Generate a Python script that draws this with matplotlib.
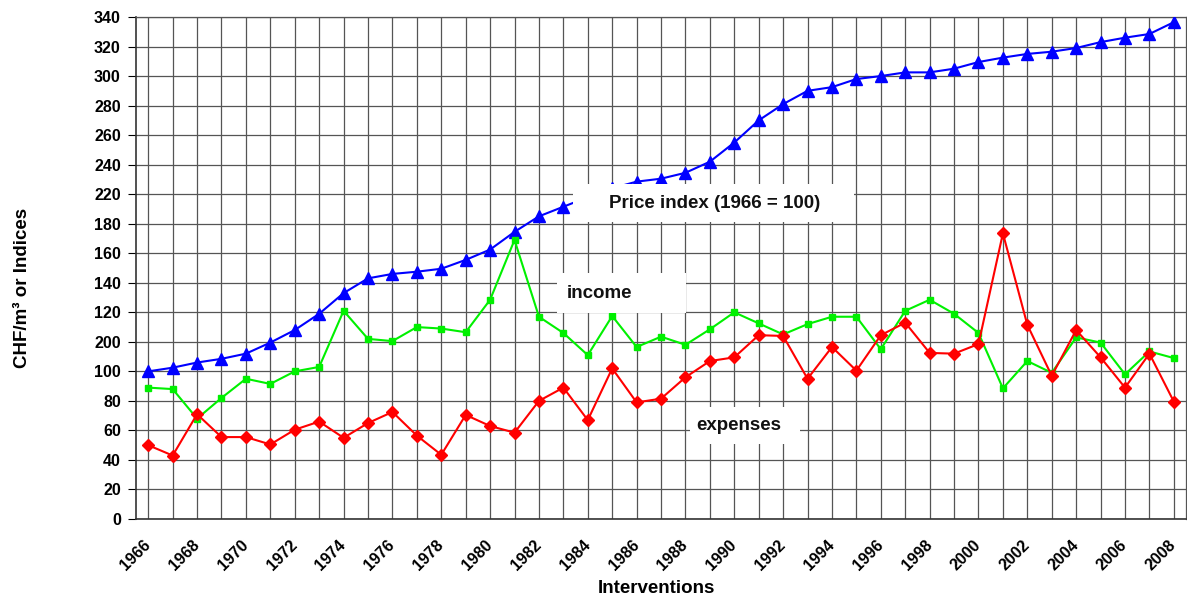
import matplotlib
matplotlib.use("Agg")
import matplotlib.pyplot as plt
from matplotlib.patches import Rectangle
from matplotlib.transforms import ScaledTranslation

plt.rcParams['font.family'] = ['Liberation Sans', 'DejaVu Sans']
plt.rcParams['font.weight'] = 'bold'

# --------------------------------------------------------
# Data
years = list(range(1966, 2009))
price_index = [100, 102.5, 106, 108.5, 112, 119.5, 128, 139, 153, 163, 166,
               167.5, 169.5, 175.5, 182.5, 194.5, 205, 211.5, 218, 224, 228.5,
               230.5, 234.5, 242, 255, 270, 281, 290, 292.5, 298, 300,
               302.5, 302.5, 305, 309.5, 312.5, 315, 316.5, 319, 323, 326,
               328.5, 336.5]
income = [89, 88, 68, 82, 95, 91.5, 100, 103, 141, 122, 120.5,
          130, 129, 126.5, 148.5, 189, 137, 126, 111, 137.5, 116.5,
          123.5, 118, 128.5, 140, 132.5, 125, 132, 137, 137, 115,
          141, 148.5, 139, 126, 88.5, 107, 99, 123, 119.5, 98,
          113.5, 109]
expenses = [50, 43, 71, 55.5, 55.5, 50.5, 60.5, 66, 55, 65, 72.5,
            56.5, 43.5, 70.5, 63, 58.5, 80, 89, 67, 102, 79,
            81.5, 96, 107, 109.5, 124.5, 124, 95, 116.5, 100.5, 124.5,
            133, 112.5, 112, 118.5, 193.5, 131.5, 97, 128, 109.5, 89,
            112, 79.5]
# the original axis carries these (mislabelled) tick texts
y_ticks = list(range(0, 341, 20))
y_tick_labels = ['0', '20', '40', '60', '80', '100', '200', '120', '140',
                 '160', '180', '220', '240', '260', '280', '300', '320', '340']
x_tick_labels = [str(y) if (y - 1966) % 2 == 0 else '' for y in years]
# --------------------------------------------------------

fig = plt.figure(figsize=(11.87, 6.01), dpi=100)
ax = fig.add_axes([0.1146, 0.1364, 0.8846, 0.8353])

x = list(range(len(years)))
ax.plot(x, price_index, color='#0000FF', lw=1.5, marker='^', ms=8, zorder=3)
ax.plot(x, income, color='#00F000', lw=1.5, marker='s', ms=5, zorder=3)
ax.plot(x, expenses, color='#FF0000', lw=1.5, marker='D', ms=6.5, zorder=3)

ax.set_xlim(-0.5, len(years) - 0.5)
ax.set_ylim(0, 340)
ax.set_yticks(y_ticks)
ax.set_yticklabels(y_tick_labels, fontsize=11.5, fontweight='bold')
ax.set_xticks(x)
ax.set_xticklabels(x_tick_labels, rotation=45, ha='right', va='center',
                   rotation_mode='anchor', fontsize=11.5, fontweight='heavy')
# nudge the slanted year labels left, like the original
shift = ScaledTranslation(-17 / 100, 0, fig.dpi_scale_trans)
for lbl in ax.get_xticklabels():
    lbl.set_transform(lbl.get_transform() + shift)
ax.tick_params(axis='y', length=6, width=0.8, pad=5)
ax.tick_params(axis='x', length=0, pad=17)
ax.grid(True, color='#555555', lw=0.9)
ax.set_axisbelow(True)
for side in ['top', 'right']:
    ax.spines[side].set_color('#555555')
    ax.spines[side].set_linewidth(0.9)
for side in ['left', 'bottom']:
    ax.spines[side].set_color('#333333')
    ax.spines[side].set_linewidth(1.2)

ax.set_ylabel('CHF/m³ or Indices', fontsize=13.5, fontweight='bold')
ax.yaxis.set_label_coords(-0.1, 0.46)
ax.set_xlabel('Interventions', fontsize=13.5, fontweight='bold')
ax.xaxis.set_label_coords(0.496, -0.122)

# white boxes with series names
boxes = [
    ('Price index (1966 = 100)', 17.38, 201.2, 11.54, 25.7, 23.19, 214, 'center'),
    ('income', 16.73, 139.5, 5.31, 27.1, 17.14, 153, 'left'),
    ('expenses', 22.2, 50.5, 4.5, 25.4, 24.2, 63.5, 'center'),
]
for text, bx, by, bw, bh, tx, ty, ha in boxes:
    ax.add_patch(Rectangle((bx, by), bw, bh, facecolor='white',
                           edgecolor='none', zorder=4))
    ax.text(tx, ty, text, ha=ha, va='center', fontsize=13.5,
            fontweight='bold', color='#111111', zorder=5)

fig.savefig('out.png', dpi=100)
